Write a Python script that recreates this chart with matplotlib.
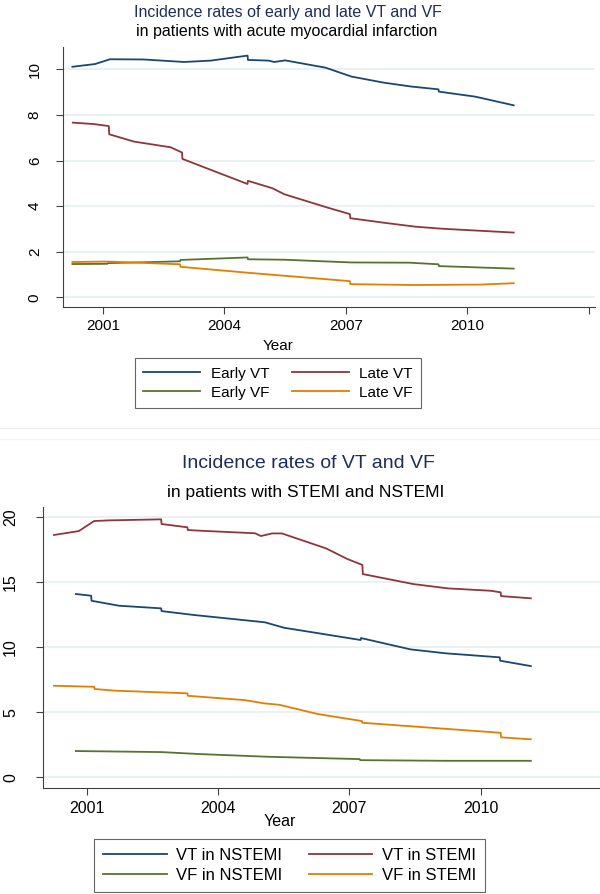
import matplotlib
matplotlib.use('Agg')
import matplotlib.pyplot as plt
from matplotlib.lines import Line2D

plt.rcParams['font.family'] = ['Liberation Sans', 'DejaVu Sans']

# ---------------- data: top panel ----------------
early_vt_year = [2000.24, 2000.8, 2001.17, 2002.0, 2003.0, 2003.66, 2004.57, 2004.58, 2005.09,
                 2005.23, 2005.5, 2006.5, 2007.14, 2007.95, 2008.63, 2009.29, 2009.30, 2010.2, 2011.15]
early_vt = [10.11, 10.23, 10.44, 10.43, 10.32, 10.38, 10.60, 10.41, 10.38,
            10.32, 10.39, 10.07, 9.68, 9.41, 9.24, 9.12, 9.02, 8.80, 8.42]

late_vt_year = [2000.25, 2000.76, 2001.14, 2001.15, 2001.76, 2002.67, 2002.95, 2002.96, 2004.57, 2004.58,
                2005.19, 2005.48, 2006.52, 2007.10, 2007.11, 2007.95, 2008.71, 2009.37, 2011.15]
late_vt = [7.66, 7.60, 7.51, 7.15, 6.83, 6.58, 6.35, 6.07, 4.97, 5.11,
           4.78, 4.52, 3.95, 3.65, 3.47, 3.27, 3.10, 3.01, 2.84]

early_vf_year = [2000.24, 2001.10, 2001.11, 2002.90, 2002.91, 2004.57, 2004.58, 2005.48, 2007.14,
                 2008.57, 2009.29, 2009.30, 2011.15]
early_vf = [1.46, 1.47, 1.50, 1.58, 1.64, 1.75, 1.67, 1.65, 1.53,
            1.52, 1.45, 1.37, 1.26]

late_vf_year = [2000.24, 2001.10, 2002.90, 2002.91, 2004.57, 2007.10, 2007.11, 2008.71, 2010.33, 2011.15]
late_vf = [1.55, 1.57, 1.45, 1.34, 1.08, 0.71, 0.58, 0.54, 0.56, 0.62]

top_labels = ['Early VT', 'Late VT', 'Early VF', 'Late VF']
top_yticks = [0, 2, 4, 6, 8, 10]
top_xticks = [2001, 2004, 2007, 2010, 2013]
top_xticklabels = ['2001', '2004', '2007', '2010', '']

# ---------------- data: bottom panel ----------------
vt_stemi_year = [2000.25, 2000.82, 2001.0, 2001.17, 2001.5, 2002.7, 2002.71, 2003.3, 2003.31, 2003.58,
                 2004.85, 2004.98, 2005.24, 2005.46, 2006.47, 2006.96, 2007.3, 2007.31, 2008.47,
                 2009.26, 2010.23, 2010.46, 2010.47, 2011.15]
vt_stemi = [18.6, 18.9, 19.3, 19.67, 19.72, 19.8, 19.44, 19.19, 18.98, 18.93,
            18.73, 18.52, 18.72, 18.72, 17.57, 16.75, 16.3, 15.6, 14.83,
            14.5, 14.32, 14.2, 13.91, 13.74]

vt_nstemi_year = [2000.75, 2001.10, 2001.11, 2001.74, 2002.70, 2002.71, 2003.45, 2005.07, 2005.51,
                  2007.26, 2007.27, 2008.40, 2009.20, 2010.44, 2010.45, 2011.15]
vt_nstemi = [14.07, 13.94, 13.55, 13.17, 12.97, 12.76, 12.46, 11.90, 11.48,
             10.54, 10.69, 9.82, 9.52, 9.21, 8.95, 8.54]

vf_stemi_year = [2000.25, 2001.17, 2001.18, 2001.65, 2003.30, 2003.31, 2004.61, 2005.05, 2005.40,
                 2006.28, 2007.29, 2007.30, 2009.26, 2010.46, 2010.47, 2011.15]
vf_stemi = [7.03, 6.95, 6.78, 6.65, 6.45, 6.26, 5.93, 5.68, 5.57,
            4.86, 4.32, 4.19, 3.71, 3.42, 3.07, 2.92]

vf_nstemi_year = [2000.75, 2002.70, 2003.56, 2005.14, 2007.24, 2007.25, 2009.20, 2011.15]
vf_nstemi = [2.02, 1.94, 1.79, 1.58, 1.40, 1.32, 1.27, 1.27]

bot_labels = ['VT in NSTEMI', 'VT in STEMI', 'VF in NSTEMI', 'VF in STEMI']
bot_yticks = [0, 5, 10, 15, 20]
bot_xticks = [2001, 2004, 2007, 2010]

# ---------------- style ----------------
NAVY = '#1a476f'
MAROON = '#90353b'
GREEN = '#55752f'
ORANGE = '#e37e00'
TITLE_NAVY = '#1e2d5c'
AXC = '#404040'
GRID = '#e3edf0'
LW = 1.3

W, H = 600, 894
fig = plt.figure(figsize=(W / 100, H / 100), dpi=100)


def fx(px):
    return px / W


def fy(py):
    return 1 - py / H


def make_axes(left, right, top, bottom):
    ax = fig.add_axes([fx(left), fy(bottom), (right - left) / W, (bottom - top) / H])
    for s in ['top', 'right']:
        ax.spines[s].set_visible(False)
    for s in ['left', 'bottom']:
        ax.spines[s].set_color(AXC)
        ax.spines[s].set_linewidth(0.8)
    ax.tick_params(direction='out', length=5, width=0.8, color=AXC, labelcolor='black')
    ax.yaxis.grid(True, color=GRID, lw=1.1)
    ax.set_axisbelow(True)
    return ax


def row_order(items):
    # matplotlib fills legend columns first; reorder so entries read row by row
    return [items[0], items[2], items[1], items[3]]


# ---------------- top panel ----------------
ax1 = make_axes(62.7, 595, 46.7, 306.7)
h1 = ax1.plot(early_vt_year, early_vt, color=NAVY, lw=LW)[0]
h2 = ax1.plot(late_vt_year, late_vt, color=MAROON, lw=LW)[0]
h3 = ax1.plot(early_vf_year, early_vf, color=GREEN, lw=LW)[0]
h4 = ax1.plot(late_vf_year, late_vf, color=ORANGE, lw=LW)[0]
ax1.set_xlim(2000, 2013.16)
ax1.set_ylim(-0.41, 10.99)
ax1.set_xticks(top_xticks)
ax1.set_xticklabels(top_xticklabels, fontsize=11)
ax1.set_yticks(top_yticks)
ax1.set_yticklabels([str(v) for v in top_yticks], fontsize=11, rotation=90, va='center')
ax1.tick_params(axis='y', pad=10)
ax1.tick_params(axis='x', pad=4)

fig.text(fx(288), fy(12.7), 'Incidence rates of early and late VT and VF', ha='center', va='center',
         fontsize=11.5, color=TITLE_NAVY)
fig.text(fx(287), fy(31.7), 'in patients with acute myocardial infarction', ha='center', va='center',
         fontsize=11.5, color='black')
fig.text(fx(278), fy(346), 'Year', ha='center', va='center', fontsize=11)

leg1 = fig.legend(row_order([h1, h2, h3, h4]), row_order(top_labels), ncol=2, loc='upper left',
                  bbox_to_anchor=(fx(135), fy(358.3)), frameon=True, fontsize=11,
                  handlelength=3.7, handletextpad=0.7, columnspacing=1.5,
                  labelspacing=0.32, borderpad=0.55, borderaxespad=0, fancybox=False)
leg1.get_frame().set_edgecolor(AXC)
leg1.get_frame().set_linewidth(0.8)

# ---------------- separator ----------------
fig.add_artist(Line2D([0, 1], [fy(428), fy(428)], color='#eeeeee', lw=1))
fig.add_artist(Line2D([0, 1], [fy(439), fy(439)], color='#f2f2f2', lw=1))

# ---------------- bottom panel ----------------
ax2 = make_axes(43, 599.5, 506.7, 788.3)
g1 = ax2.plot(vt_nstemi_year, vt_nstemi, color=NAVY, lw=LW)[0]
g2 = ax2.plot(vt_stemi_year, vt_stemi, color=MAROON, lw=LW)[0]
g3 = ax2.plot(vf_nstemi_year, vf_nstemi, color=GREEN, lw=LW)[0]
g4 = ax2.plot(vf_stemi_year, vf_stemi, color=ORANGE, lw=LW)[0]
ax2.set_xlim(2000, 2012.72)
ax2.set_ylim(-0.84, 20.77)
ax2.set_xticks(bot_xticks)
ax2.set_xticklabels([str(v) for v in bot_xticks], fontsize=11.5)
ax2.set_yticks(bot_yticks)
ax2.set_yticklabels([str(v) for v in bot_yticks], fontsize=11.5, rotation=90, va='center')
ax2.tick_params(axis='y', pad=13)
ax2.tick_params(axis='x', pad=4)

fig.text(fx(308), fy(463), 'Incidence rates of VT and VF', ha='center', va='center',
         fontsize=14, color=TITLE_NAVY)
fig.text(fx(306), fy(493), 'in patients with STEMI and NSTEMI', ha='center', va='center',
         fontsize=12.5, color='black')
fig.text(fx(280), fy(821), 'Year', ha='center', va='center', fontsize=11.5)

leg2 = fig.legend(row_order([g1, g2, g3, g4]), row_order(bot_labels), ncol=2, loc='upper left',
                  bbox_to_anchor=(fx(94), fy(839)), frameon=True, fontsize=12,
                  handlelength=3.8, handletextpad=0.6, columnspacing=1.55,
                  labelspacing=0.3, borderpad=0.55, borderaxespad=0, fancybox=False)
leg2.get_frame().set_edgecolor(AXC)
leg2.get_frame().set_linewidth(0.8)

fig.savefig('out.png', dpi=100, facecolor='white')
